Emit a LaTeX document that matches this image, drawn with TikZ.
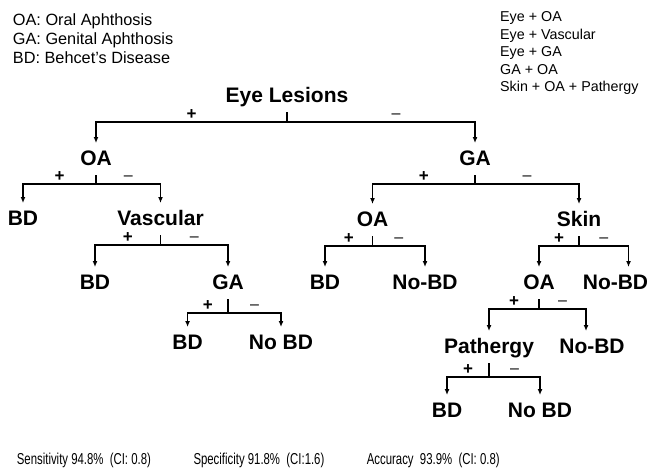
\documentclass[tikz,border=0pt]{standalone}
\usepackage{fontspec}
\setmainfont{Liberation Sans}
\newfontfamily\narrowfont{Liberation Sans}[FakeStretch=0.72]
\usetikzlibrary{arrows.meta}
\tikzset{%
	lbl/.style     = {anchor=base, font=\fontsize{21}{25}\selectfont\bfseries, text height=16pt, text depth=4pt, inner sep=3pt, outer sep=3pt},
	sgn/.style     = {above, pos=0.25, inner sep=2pt},
	plus/.style    = {sgn, font=\fontsize{17}{19}\selectfont\bfseries},
	minus/.style   = {sgn, inner sep=3pt, font=\fontsize{16}{18}\selectfont},
	link/.style    = {line width=1.5pt},
	arrow/.style   = {line width=1.5pt, -{Latex[length=6pt,width=5pt]}},
	keyleft/.style = {anchor=base west, inner sep=0pt, font=\fontsize{16.3}{19}\selectfont},
	keyright/.style= {anchor=base west, inner sep=0pt, font=\fontsize{14.3}{17}\selectfont},
	stat/.style    = {anchor=base west, inner sep=0pt, font=\narrowfont\fontsize{15.8}{18}\selectfont},
}
\begin{document}
\begin{tikzpicture}[x=1pt,y=-1pt]
		\useasboundingbox (0,0) rectangle (651,475);
		
		\foreach \t [count=\i] in {OA: Oral Aphthosis, GA: Genital Aphthosis, BD: Behcet’s Disease}
			\node[keyleft] (key\i) at (12.7,6+19*\i) {\t};
		
		\foreach \t [count=\i] in {Eye + OA, Eye + Vascular, Eye + GA, GA + OA, Skin + OA + Pathergy}
			\node[keyright] (rule\i) at (500,4.2+17.5*\i) {\t};
		
		\node[lbl] (eye)   at (287,102)   {Eye Lesions};
		\node[lbl] (oaL)   at (96,165)    {OA};
		\node[lbl] (gaR)   at (475,165)   {GA};
		\node[lbl] (bdA)   at (23,225)    {BD};
		\node[lbl] (vasc)  at (160.5,225) {Vascular};
		\node[lbl] (bdB)   at (95,289)    {BD};
		\node[lbl] (gaV)   at (228,289)   {GA};
		\node[lbl] (bdC)   at (187.6,349) {BD};
		\node[lbl] (nobdC) at (281,349)   {No BD};
		\node[lbl] (oaR)   at (372.5,226) {OA};
		\node[lbl] (skin)  at (579,226)   {Skin};
		\node[lbl] (bdD)   at (325,289)   {BD};
		\node[lbl] (nobdD) at (425,289)   {No-BD};
		\node[lbl] (oaS)   at (539,289)   {OA};
		\node[lbl] (nobdS) at (615.5,289) {No-BD};
		\node[lbl] (path)  at (489,353)   {Pathergy};
		\node[lbl] (nobdO) at (592,353)   {No-BD};
		\node[lbl] (bdP)   at (447,417)   {BD};
		\node[lbl] (nobdP) at (540,417)   {No BD};
		
		\draw[link] (eye.south) -- ++(0,10) coordinate (eyeJ);
		\draw[arrow] (eyeJ) -| node[plus] {+} (oaL.north);
		\draw[arrow] (eyeJ) -| node[minus,pos=0.29] {–} (gaR.north);
		
		\draw[link] (oaL.south) -- ++(0,9) coordinate (oaLJ);
		\draw[arrow] (oaLJ) -| node[plus] {+} (bdA.north);
		\draw[arrow] (oaLJ) -| node[minus] {–} (vasc.north);
		
		\draw[link] (vasc.south) -- ++(0,10) coordinate (vascJ);
		\draw[arrow] (vascJ) -| node[plus] {+} (bdB.north);
		\draw[arrow] (vascJ) -| node[minus] {–} (gaV.north);
		
		\draw[link] (gaV.south) -- ++(0,14) coordinate (gaVJ);
		\draw[arrow] (gaVJ) -| node[plus] {+} (bdC.north);
		\draw[arrow] (gaVJ) -| node[minus] {–} (nobdC.north);
		
		\draw[link] (gaR.south) -- ++(0,9) coordinate (gaRJ);
		\draw[arrow] (gaRJ) -| node[plus] {+} (oaR.north);
		\draw[arrow] (gaRJ) -| node[minus] {–} (skin.north);
		
		\draw[link] (oaR.south) -- ++(0,10) coordinate (oaRJ);
		\draw[arrow] (oaRJ) -| node[plus] {+} (bdD.north);
		\draw[arrow] (oaRJ) -| node[minus] {–} (nobdD.north);
		
		\draw[link] (skin.south) -- ++(0,10) coordinate (skinJ);
		\draw[arrow] (skinJ) -| node[plus] {+} (oaS.north);
		\draw[arrow] (skinJ) -| node[minus] {–} ([xshift=13pt]nobdS.north);
		
		\draw[link] (oaS.south) -- ++(0,10) coordinate (oaSJ);
		\draw[arrow] (oaSJ) -| node[plus] {+} (path.north);
		\draw[arrow] (oaSJ) -| node[minus] {–} ([xshift=-6pt]nobdO.north);
		
		\draw[link] (path.south) -- ++(0,14) coordinate (pathJ);
		\draw[arrow] (pathJ) -| node[plus] {+} (bdP.north);
		\draw[arrow] (pathJ) -| node[minus] {–} (nobdP.north);
		
		\node[stat] (sens) at (16.7,464.3)  {Sensitivity 94.8\%\ \ (CI: 0.8)};
		\node[stat] (spec) at (193.3,464.3) {Specificity 91.8\%\ \ (CI:1.6)};
		\node[stat] (acc)  at (366.7,464.3) {Accuracy\ \ 93.9\%\ \ (CI: 0.8)};
	\end{tikzpicture}
\end{document}
